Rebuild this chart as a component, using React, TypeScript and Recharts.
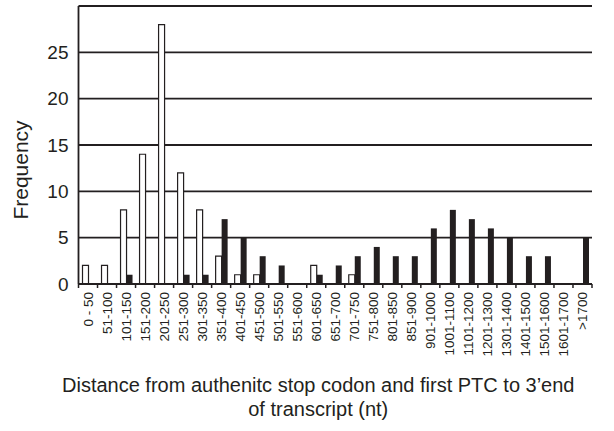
import React from 'react';
import { BarChart, Bar, XAxis, YAxis, CartesianGrid } from 'recharts';

const categories = [
  '0 - 50', '51-100', '101-150', '151-200', '201-250', '251-300', '301-350',
  '351-400', '401-450', '451-500', '501-550', '551-600', '601-650', '651-700',
  '701-750', '751-800', '801-850', '851-900', '901-1000', '1001-1100',
  '1101-1200', '1201-1300', '1301-1400', '1401-1500', '1501-1600', '1601-1700', '>1700',
];
const ptcValues = [2, 2, 8, 14, 28, 12, 8, 3, 1, 1, 0, 0, 2, 0, 1, 0, 0, 0, 0, 0, 0, 0, 0, 0, 0, 0, 0];
const stopValues = [0, 0, 1, 0, 0, 1, 1, 7, 5, 3, 2, 0, 1, 2, 3, 4, 3, 3, 6, 8, 7, 6, 5, 3, 3, 0, 5];
const yTicks = [0, 5, 10, 15, 20, 25, 30];

const data = categories.map((c, i) => ({ name: c, ptc: ptcValues[i], stop: stopValues[i] }));

const FONT = '"Liberation Sans", Arial, sans-serif';
const INK = '#231f20';

const XTick = (props: any) => {
  const { x, y, payload, index } = props;
  const off = payload && typeof payload.offset === 'number' && payload.offset > 0 ? payload.offset : 9.51;
  const last = index === categories.length - 1;
  return (
    <g>
      <line x1={x - off} x2={x - off} y1={y} y2={y + 4} stroke={INK} strokeWidth={1.5} />
      {last && <line x1={x + off} x2={x + off} y1={y} y2={y + 4} stroke={INK} strokeWidth={1.5} />}
      <text
        x={x}
        y={y + 8}
        transform={`rotate(-90, ${x}, ${y + 8})`}
        textAnchor="end"
        dy="0.35em"
        fontSize={13.5}
        fontFamily={FONT}
        fill={INK}
      >
        {payload.value}
      </text>
    </g>
  );
};

const XTitle = (props: any) => {
  const vb = props.viewBox || { x: 78.5, y: 284, width: 513.5, height: 147 };
  const cx = vb.x + vb.width / 2 - 17;
  return (
    <g>
      <text x={cx} y={vb.y + 108} textAnchor="middle" fontSize={20} fontFamily={FONT} fill={INK}>
        Distance from authenitc stop codon and first PTC to 3’end
      </text>
      <text x={cx} y={vb.y + 132} textAnchor="middle" fontSize={20} fontFamily={FONT} fill={INK}>
        of transcript (nt)
      </text>
    </g>
  );
};

const YTitle = () => (
  <text
    x={21}
    y={170}
    transform="rotate(-90, 21, 170)"
    textAnchor="middle"
    dy="0.35em"
    fontSize={21}
    fontFamily={FONT}
    fill={INK}
  >
    Frequency
  </text>
);

export default function App() {
  return (
    <div style={{ position: 'absolute', left: 0, top: 0, width: 614, height: 431, background: '#fff' }}>
      <BarChart
        width={614}
        height={431}
        data={data}
        margin={{ top: 6, right: 22, bottom: 0, left: 0 }}
        barGap={0}
        barSize={6}
      >
        <CartesianGrid vertical={false} stroke={INK} strokeWidth={1.8} />
        <XAxis
          dataKey="name"
          interval={0}
          height={147}
          tickLine={false}
          tickSize={0}
          tickMargin={0}
          tick={<XTick />}
          axisLine={{ stroke: INK, strokeWidth: 1.8 }}
          label={<XTitle />}
        />
        <YAxis
          width={78.5}
          domain={[0, 30]}
          ticks={yTicks}
          interval={0}
          tickFormatter={(v: number) => (v === 30 ? '' : String(v))}
          tickLine={false}
          tickSize={0}
          tickMargin={10}
          tick={{ fontSize: 19, fontFamily: FONT, fill: INK }}
          axisLine={{ stroke: INK, strokeWidth: 1.8 }}
          label={<YTitle />}
        />
        <YAxis
          yAxisId="right"
          orientation="right"
          width={0}
          domain={[0, 30]}
          tick={false}
          tickLine={false}
          axisLine={{ stroke: INK, strokeWidth: 1.8 }}
        />
        <Bar dataKey="ptc" fill="#ffffff" stroke={INK} strokeWidth={1.2} isAnimationActive={false} />
        <Bar dataKey="stop" fill={INK} isAnimationActive={false} />
      </BarChart>
    </div>
  );
}
